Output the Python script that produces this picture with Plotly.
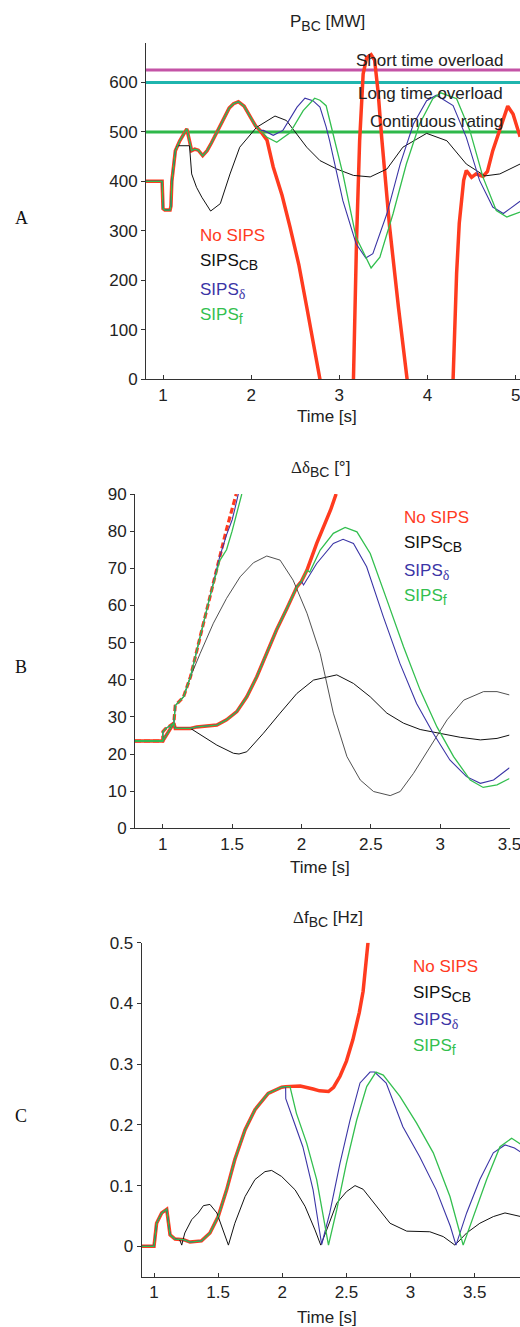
import plotly.graph_objects as go

# ---------------- Panel A : P_BC [MW] ----------------
tA_common = [0.8, 0.99, 1.0, 1.02, 1.08, 1.09, 1.1, 1.14, 1.19, 1.23, 1.27, 1.29, 1.325, 1.36, 1.4, 1.45,
             1.5, 1.55, 1.61, 1.68, 1.75, 1.8, 1.855, 1.92, 2.0, 2.05, 2.1]
pA_common = [400, 400, 345, 342, 342, 350, 400, 462, 482, 495, 506, 490, 462, 465, 463, 452,
             462, 478, 499, 525, 548, 557, 561, 552, 528, 512, 503]

tA_nosips = [2.18, 2.25, 2.35, 2.44, 2.54, 2.63, 2.7, 2.78, 2.88, 3.08, 3.16, 3.195, 3.23, 3.27, 3.31, 3.36,
             3.4, 3.44, 3.48, 3.57, 3.67, 3.77, 3.87, 4.2, 4.29, 4.33, 4.36, 4.41, 4.44, 4.5, 4.55, 4.63,
             4.68, 4.74, 4.84, 4.91, 4.97, 5.05]
pA_nosips = [483, 429, 372, 308, 232, 146, 80, 0, -150, -150, 0, 281, 482, 617, 650, 656,
             645, 580, 489, 308, 146, 0, -150, -150, 0, 214, 315, 402, 422, 408, 415, 410,
             420, 462, 516, 552, 536, 490]

tA_cb = [0.8, 0.99, 1.0, 1.02, 1.08, 1.09, 1.1, 1.14, 1.16, 1.3, 1.325, 1.38, 1.44, 1.54, 1.65, 1.76, 1.87,
         2.06, 2.27, 2.4, 2.63, 2.78, 2.97, 3.16, 3.35, 3.54, 3.72, 3.99, 4.22, 4.44, 4.65, 4.82, 5.05]
pA_cb = [400, 400, 345, 342, 342, 350, 400, 462, 472, 472, 415, 388, 368, 340, 355, 415, 469,
         509, 532, 523, 469, 442, 425, 412, 409, 425, 469, 497, 482, 435, 411, 415, 435]

tA_delta = [2.14, 2.25, 2.36, 2.52, 2.61, 2.7, 2.78, 2.85, 2.89, 3.04, 3.19, 3.3, 3.38, 3.54, 3.69, 3.84,
            3.99, 4.1, 4.29, 4.44, 4.59, 4.74, 4.86, 5.05]
pA_delta = [503, 493, 503, 550, 568, 563, 550, 510, 482, 361, 274, 245, 254, 335, 435, 516,
            563, 574, 553, 489, 402, 348, 335, 360]

tA_f = [2.18, 2.29, 2.44, 2.59, 2.72, 2.78, 2.85, 2.89, 3.04, 3.19, 3.36, 3.46, 3.61, 3.76, 3.91,
        4.06, 4.15, 4.33, 4.48, 4.63, 4.78, 4.9, 5.05]
pA_f = [489, 479, 498, 543, 568, 564, 553, 524, 415, 287, 225, 247, 335, 435, 516,
        567, 579, 567, 503, 408, 341, 328, 338]

ratings_A = [625, 600, 500]
rating_names = ["Short time overload", "Long time overload", "Continuous rating"]

# ---------------- Panel B : delta angle [deg] ----------------
tB_steep_common = [0.8, 1.0, 1.001, 1.02, 1.08, 1.09, 1.15, 1.2]
dB_steep_common = [23.5, 23.5, 26.0, 26.8, 28.3, 33.0, 35.4, 40.8]
tB_nosips_steep = [1.27, 1.34, 1.41, 1.46, 1.53]
dB_nosips_steep = [51.6, 62.3, 73.1, 80.5, 90.0]
tB_delta_steep = [1.27, 1.34, 1.41, 1.46, 1.5, 1.52, 1.545]
dB_delta_steep = [51.6, 62.3, 73.0, 79.0, 83.0, 86.0, 90.0]
tB_f_steep = [1.27, 1.34, 1.41, 1.46, 1.5, 1.57]
dB_f_steep = [51.6, 62.3, 72.0, 75.0, 80.0, 90.0]
tB_cb_steep = [1.27, 1.365, 1.46, 1.558, 1.654, 1.75, 1.846, 1.94, 2.04, 2.135, 2.23, 2.328, 2.424,
               2.52, 2.64, 2.712, 2.808, 2.929, 3.05, 3.17, 3.313, 3.41, 3.5]
dB_cb_steep = [47.1, 55.2, 61.9, 67.7, 71.5, 73.3, 72.2, 66.8, 57.9, 47.1, 31.0, 19.3, 13.0,
               9.9, 8.8, 9.9, 14.8, 22.0, 29.2, 34.5, 36.8, 36.8, 35.9]

tB_slow_common = [0.8, 1.0, 1.08, 1.09, 1.2, 1.245, 1.39, 1.46, 1.534, 1.606, 1.678, 1.75, 1.82,
                  1.895, 1.967, 2.0]
dB_slow_common = [23.5, 23.5, 28.3, 26.9, 26.9, 27.3, 27.8, 29.2, 31.4, 35.4, 40.8, 47.1, 53.4,
                  59.2, 65.0, 66.5]
tB_nosips_slow = [2.04, 2.11, 2.21, 2.25]
dB_nosips_slow = [69.5, 76.7, 85.7, 90.0]
tB_delta_slow = [2.015, 2.11, 2.23, 2.3, 2.375, 2.47, 2.59, 2.71, 2.83, 2.95, 3.07, 3.19, 3.29, 3.385, 3.5]
dB_delta_slow = [65.5, 71.3, 76.7, 77.8, 76.7, 70.4, 57.0, 44.4, 33.6, 25.6, 18.4, 13.9, 12.1, 13.0, 16.3]
tB_f_slow = [2.05, 2.06, 2.135, 2.23, 2.315, 2.4, 2.496, 2.616, 2.736, 2.856, 2.977, 3.097, 3.217,
             3.31, 3.41, 3.5]
dB_f_slow = [69.5, 69.0, 74.9, 79.4, 81.0, 79.8, 74.0, 61.5, 48.9, 37.2, 27.3, 19.3, 13.0,
             11.0, 11.7, 13.4]
tB_cb_slow = [1.29, 1.39, 1.51, 1.55, 1.606, 1.726, 1.846, 1.967, 2.087, 2.255, 2.375, 2.496, 2.616,
              2.736, 2.856, 3.025, 3.145, 3.29, 3.41, 3.5]
dB_cb_slow = [24.7, 22.4, 20.2, 20.0, 20.6, 25.6, 31.0, 36.3, 39.9, 41.3, 39.0, 35.4, 31.0,
              28.3, 26.6, 25.4, 24.5, 23.8, 24.2, 25.1]

# ---------------- Panel C : delta f [Hz] ----------------
tC_common = [0.9, 1.0, 1.02, 1.06, 1.099, 1.11, 1.125, 1.164, 1.2, 1.23, 1.28, 1.37, 1.436, 1.5, 1.566,
             1.63, 1.71, 1.787, 1.89, 1.995, 2.026]
fC_common = [0.0, 0.0, 0.038, 0.055, 0.061, 0.038, 0.019, 0.012, 0.011, 0.011, 0.007, 0.009, 0.022,
             0.049, 0.093, 0.143, 0.192, 0.225, 0.252, 0.262, 0.263]
tC_nosips = [2.14, 2.24, 2.29, 2.36, 2.4, 2.45, 2.5, 2.55, 2.6, 2.63, 2.65, 2.668]
fC_nosips = [0.264, 0.259, 0.256, 0.255, 0.262, 0.28, 0.305, 0.34, 0.385, 0.42, 0.46, 0.5]
tC_delta = [2.027, 2.086, 2.16, 2.24, 2.307, 2.37, 2.45, 2.528, 2.606, 2.684, 2.72, 2.81, 2.94, 3.07,
            3.2, 3.31, 3.354, 3.437, 3.54, 3.645, 3.736, 3.81, 3.86]
fC_delta = [0.243, 0.208, 0.164, 0.093, 0.003, 0.055, 0.137, 0.208, 0.269, 0.287, 0.287, 0.269, 0.197,
            0.148, 0.093, 0.033, 0.002, 0.055, 0.11, 0.154, 0.167, 0.162, 0.155]
tC_f = [2.06, 2.11, 2.19, 2.268, 2.36, 2.424, 2.5, 2.58, 2.658, 2.73, 2.787, 2.917, 3.047, 3.177, 3.307,
        3.41, 3.49, 3.593, 3.697, 3.788, 3.86]
fC_f = [0.263, 0.219, 0.17, 0.11, 0.002, 0.06, 0.137, 0.208, 0.263, 0.287, 0.282, 0.247, 0.203, 0.154,
        0.082, 0.002, 0.049, 0.11, 0.164, 0.178, 0.168]
tC_cb = [1.216, 1.24, 1.294, 1.345, 1.385, 1.436, 1.49, 1.54, 1.58, 1.63, 1.71, 1.787, 1.865, 1.917, 1.995,
         2.1, 2.177, 2.255, 2.3, 2.346, 2.424, 2.5, 2.567, 2.63, 2.736, 2.84, 2.97, 3.15, 3.255, 3.346,
         3.437, 3.54, 3.645, 3.736, 3.86]
fC_cb = [0.002, 0.022, 0.044, 0.055, 0.067, 0.069, 0.055, 0.027, 0.002, 0.038, 0.082, 0.11, 0.123, 0.125,
         0.115, 0.093, 0.066, 0.027, 0.002, 0.027, 0.071, 0.09, 0.1, 0.094, 0.066, 0.038, 0.025, 0.024,
         0.016, 0.002, 0.022, 0.038, 0.049, 0.055, 0.049]

# ---------------- styling ----------------
W, H = 520, 1327
RED = "#FF3B1F"
BLACK = "#111111"
GRAY = "#3C3C3C"
BLUE = "#3B35A6"
GREEN = "#33BF4F"
RATING_COLORS = ["#C453A6", "#1FB5AE", "#2EB84A"]
FONT = "Liberation Sans, Arial, sans-serif"
SERIF = "Liberation Serif, Times New Roman, serif"


def fx(px):
    return px / W


def fy(py):
    return 1 - py / H


def before(ts, vs, t_end):
    out_t, out_v = [], []
    for t, v in zip(ts, vs):
        if t <= t_end:
            out_t.append(t)
            out_v.append(v)
    return out_t, out_v


def sub(s, size=14, serif=False):
    fam = "font-family:Liberation Serif;" if serif else ""
    return '<sub><span style="font-size:%dpx;%s">%s</span></sub>' % (size, fam, s)


fig = go.Figure()


def line(x, y, color, width, xa, ya, dash="solid"):
    fig.add_trace(go.Scatter(x=x, y=y, mode="lines", xaxis=xa, yaxis=ya, showlegend=False,
                             line=dict(color=color, width=width, dash=dash), hoverinfo="skip"))


# Panel A
for val, col in zip(ratings_A, RATING_COLORS):
    line([0.807, 5.049], [val, val], col, 3, "x", "y")
line(tA_common + tA_nosips, pA_common + pA_nosips, RED, 3.5, "x", "y")
line(tA_cb, pA_cb, BLACK, 1, "x", "y")
line(tA_common + tA_delta, pA_common + pA_delta, BLUE, 1.1, "x", "y")
line(tA_common + tA_f, pA_common + pA_f, GREEN, 1.3, "x", "y")

# Panel B
line(tB_slow_common + tB_nosips_slow, dB_slow_common + dB_nosips_slow, RED, 3.5, "x2", "y2")
line(tB_steep_common + tB_nosips_steep, dB_steep_common + dB_nosips_steep, RED, 3.2, "x2", "y2", dash="6px,3px")
sc_t, sc_v = before(tB_slow_common, dB_slow_common, 1.2)
line(sc_t + tB_cb_slow, sc_v + dB_cb_slow, BLACK, 1, "x2", "y2")
line(tB_steep_common + tB_cb_steep, dB_steep_common + dB_cb_steep, GRAY, 0.9, "x2", "y2")
line(tB_slow_common + tB_delta_slow, dB_slow_common + dB_delta_slow, BLUE, 1.1, "x2", "y2")
line(tB_steep_common + tB_delta_steep, dB_steep_common + dB_delta_steep, BLUE, 1.1, "x2", "y2")
sc_t2, sc_v2 = before(tB_slow_common + tB_nosips_slow, dB_slow_common + dB_nosips_slow, 2.04)
line(sc_t2 + tB_f_slow[1:], sc_v2 + dB_f_slow[1:], GREEN, 1.3, "x2", "y2")
line(tB_steep_common + tB_f_steep, dB_steep_common + dB_f_steep, GREEN, 1.3, "x2", "y2")

# Panel C
line(tC_common + tC_nosips, fC_common + fC_nosips, RED, 3.5, "x3", "y3")
cc_t, cc_v = before(tC_common, fC_common, 1.2)
line(cc_t + tC_cb, cc_v + fC_cb, BLACK, 1, "x3", "y3")
line(tC_common + tC_delta, fC_common + fC_delta, BLUE, 1.1, "x3", "y3")
line(tC_common + tC_f, fC_common + fC_f, GREEN, 1.3, "x3", "y3")

axis_common = dict(showgrid=False, zeroline=False, showline=True, linecolor="#333333", linewidth=1,
                   ticklen=4, tickcolor="#333333", tickwidth=1, ticklabeloverflow="allow",
                   automargin=False,
                   tickfont=dict(family=FONT, size=17, color="#222222"))

fig.update_layout(
    width=W, height=H, margin=dict(l=0, r=0, t=0, b=0, autoexpand=False),
    paper_bgcolor="white", plot_bgcolor="white",
    xaxis=dict(domain=[fx(146), 1.0], range=[0.807, 5.049], anchor="y", ticks="inside",
               tickvals=[1, 2, 3, 4, 5], **axis_common),
    yaxis=dict(domain=[fy(379.3), fy(43.3)], range=[0, 679], anchor="x", ticks="outside",
               tickvals=[0, 100, 200, 300, 400, 500, 600], **axis_common),
    xaxis2=dict(domain=[fx(135), fx(509.5)], range=[0.8, 3.5], anchor="y2", ticks="inside",
                tickvals=[1, 1.5, 2, 2.5, 3, 3.5], **axis_common),
    yaxis2=dict(domain=[fy(828.3), fy(494)], range=[0, 90], anchor="x2", ticks="outside",
                tickvals=list(range(0, 91, 10)), **axis_common),
    xaxis3=dict(domain=[fx(141.7), 1.0], range=[0.904, 3.853], anchor="y3", ticks="inside",
                tickvals=[1, 1.5, 2, 2.5, 3, 3.5], **axis_common),
    yaxis3=dict(domain=[fy(1276.7), fy(942.7)], range=[-0.05, 0.5], anchor="x3", ticks="outside",
                tickvals=[0, 0.1, 0.2, 0.3, 0.4, 0.5], ticktext=["0", "0.1", "0.2", "0.3", "0.4", "0.5"],
                **axis_common),
)

ann = []


def text(px, py, s, size=16, color="#222222", xanchor="center", family=FONT):
    ann.append(dict(x=fx(px), y=fy(py), xref="paper", yref="paper", text=s, showarrow=False,
                    xanchor=xanchor, yanchor="middle", font=dict(family=family, size=size, color=color)))


# titles
text(327, 23, "P" + sub("BC") + " [MW]", 17)
text(320, 469, '<span style="font-family:Liberation Serif">Δδ</span>' + sub("BC") + " [°]", 17)
text(328, 919, '<span style="font-family:Liberation Serif">Δ</span>f' + sub("BC") + " [Hz]", 17)

# x labels
text(327, 416, "Time [s]", 17)
text(320, 867, "Time [s]", 17)
text(327, 1317, "Time [s]", 17)

# panel letters
text(21, 218, "A", 18, "#111111", family=SERIF)
text(21, 667, "B", 18, "#111111", family=SERIF)
text(21, 1116, "C", 18, "#111111", family=SERIF)

# rating labels
for name, py in zip(rating_names, [60, 94, 121]):
    text(505, py, name, 17, "#222222", xanchor="right")

# legends
legend_items = [("No SIPS", RED), ("SIPS" + sub("CB"), BLACK),
                ("SIPS" + sub("δ", serif=True), BLUE),
                ("SIPS" + sub("f"), GREEN)]
for (lx, ys) in [(198, [235, 262, 291, 316]), (402, [517, 544, 572, 597]), (411, [966, 994, 1021, 1047])]:
    for (lab, col), py in zip(legend_items, ys):
        text(lx, py, lab, 17, col, xanchor="left")

fig.update_layout(annotations=ann)
fig.write_html("out.html")
